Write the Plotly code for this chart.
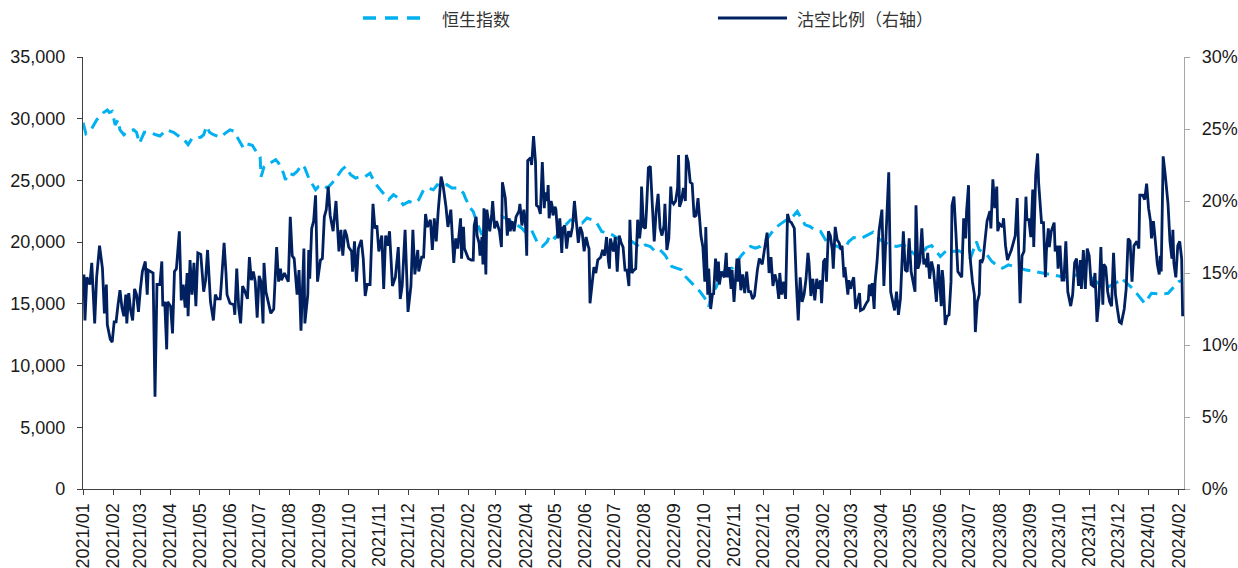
import pandas as pd
import plotly.graph_objects as go

BASE_DATE = "2021-01-01"

# Hang Seng Index: day offset from BASE_DATE, index level
hsi_day = [0, 3, 9, 14, 21, 25, 27, 30, 33, 36, 38, 42, 45, 52, 55, 58, 63, 68, 75, 79,
           86, 93, 100, 104, 108, 112, 121, 124, 127, 130, 134, 141, 145, 151, 155, 161,
           165, 169, 174, 179, 182, 183, 186,
           192, 198, 201, 206, 208, 211, 216, 220, 225, 228, 232, 235, 239, 242, 247, 251,
           256, 261, 266, 270, 275, 280, 285, 290, 295, 300, 304, 309, 314, 319, 324, 329,
           335, 340, 345, 350, 355, 360, 364, 369, 374, 379,
           386, 391, 393, 398, 401, 405, 408, 410, 415, 420, 425, 430, 434, 439, 446, 451,
           454, 460, 465, 468, 472, 477, 480, 485, 490, 496, 501, 508, 513, 518, 523, 528,
           533, 538, 544, 549, 556, 564, 569,
           574, 578, 583, 588, 593, 598, 602, 605, 610, 615, 619, 624, 629, 634, 639, 643,
           646, 651, 655, 660, 667, 672, 677, 682, 686, 691, 696, 701, 706, 711, 718, 723,
           728, 734, 737, 742, 747, 752, 758,
           764, 775, 782, 787, 792, 800, 812, 817, 823, 829, 836, 843, 848, 855, 860, 867,
           872, 877, 881, 888, 893, 900, 908, 912, 918, 921, 929, 934, 941, 945, 951,
           968, 977, 986, 997, 1009, 1019, 1030, 1043, 1054, 1064, 1067, 1079, 1091, 1098,
           1109, 1115, 1122, 1126, 1130]
hsi_value = [29680, 28800, 29200, 29900, 30500, 30700, 30500, 30600, 29500, 29900, 29100,
             28700, 28900, 29100, 28900, 28000, 28900, 28900, 28700, 28600, 29100, 28900,
             28500, 28300, 27900, 28400, 28500, 28700, 29400, 28900, 28700, 28500, 28750,
             29100, 29000, 28100, 27600, 27950, 27850, 27200, 26900, 25300, 26100,
             26400, 26680, 26400, 25590, 25050, 25590, 25460, 25730, 26270, 26000, 25190,
             24780, 24240, 24510, 24650, 24380, 24780, 25320, 25870, 26140, 25460, 25190,
             25320, 25320, 25590, 24780, 24380, 23840, 23430, 23840, 23570, 23030, 23300,
             23160, 23430, 24240, 24380, 24240, 24650, 24510, 24650, 24380,
             24380, 23970, 23570, 22760, 22490, 21540, 20860, 20590, 21400, 21810, 21950,
             22080, 21950, 21730, 21400, 21130, 20860, 21130, 20320, 19780, 19650, 20050,
             20590, 20320, 20860, 21400, 21810, 21680, 21540, 21950, 21810, 21540, 20860,
             20730, 20590, 20320, 20050, 20050, 19780,
             19510, 19780, 19650, 19240, 19380, 18970, 18430, 18030, 17890, 17760, 17220,
             16810, 16400, 16000, 15460, 14780, 15730, 16400, 17220, 17760, 17890, 18430,
             18970, 19380, 19650, 19510, 19650, 20050, 20590, 21130, 21540, 21810, 21950,
             22490, 22080, 21400, 21270, 21000, 20860,
             20050, 19650, 19380, 20050, 20380, 20320, 20810, 20320, 20000, 19780, 19650,
             19780, 19510, 18970, 18760, 19570, 19730, 19240, 18840, 19380, 19240, 19300,
             18970, 18700, 20050, 19380, 18970, 18430, 18030, 17890, 18160,
             17760, 17620, 17540, 17350, 17160, 17300, 17570, 16670, 16400, 16810, 17080,
             16220, 15050, 15860, 15780, 15860, 16490, 16810, 16900]

# Short-selling ratio (%): day offset from BASE_DATE, ratio
short_day = [1, 2, 4, 7, 9, 12, 14, 17, 20, 22, 24, 25, 28, 30, 32, 34, 36, 38, 40, 42, 44,
             45, 47, 49, 51, 53, 55, 57, 59, 61, 64, 66, 67, 72, 74, 76, 79, 81, 82, 84, 86,
             87, 90, 92, 94, 96, 99, 101, 103, 105, 107, 108, 110, 112, 114, 116, 118, 121,
             124, 126, 128, 131, 134, 136, 138, 141, 142, 145, 147, 148, 151, 155, 156, 158,
             160, 162, 164, 166, 169, 171, 173, 175, 177, 179, 181, 183, 185, 186, 188,
             190, 193, 196, 199, 201, 203, 204, 207, 209, 211, 213, 215, 217, 220, 222, 224,
             227, 228, 231, 232, 233, 235, 237, 239, 241, 244, 246, 248, 250, 252, 254, 257,
             260, 263, 265, 267, 269, 271, 273, 276, 277, 279, 281, 283, 286, 288, 290, 292,
             295, 298, 300, 302, 304, 307, 309, 311, 313, 315, 318, 321, 324, 326, 328, 331,
             334, 337, 339, 341, 344, 345, 348, 350, 352, 354, 357, 359, 361, 363, 365, 368,
             370, 373, 375, 378, 381,
             383, 385, 386, 388, 389, 391, 392, 394, 396, 399, 401, 402, 404, 405, 407, 408,
             410, 411, 412, 414, 415, 417, 418, 420, 421, 423, 425, 428, 430, 431, 434, 436,
             438, 439, 441, 443, 445, 448, 449, 451, 453, 455, 456, 457, 460, 461, 463, 465,
             466, 468, 470, 472, 474, 475, 477, 478, 479, 481, 482, 483, 485, 486, 488, 490,
             492, 493, 495, 497, 499, 501, 503, 505, 507, 509, 511, 513, 515, 517, 519, 520,
             521, 523, 525, 527, 529, 532, 534, 536, 538, 540, 541, 542, 545, 547, 549, 551,
             553, 555, 557, 559, 561, 562, 564, 566, 568, 570,
             572, 573, 574, 576, 578, 579, 581, 583, 585, 587, 589, 591, 593, 595, 597, 598,
             600, 602, 604, 605, 607, 609, 611, 612, 613, 615, 617, 619, 620, 622, 624, 626,
             628, 630, 632, 635, 637, 639, 640, 642, 643, 645, 647, 648, 650, 652, 653, 654,
             656, 659, 661, 662, 664, 666, 667, 669, 672, 673, 674, 676, 678, 680, 682, 684,
             686, 688, 690, 692, 693, 695, 698, 700, 702, 703, 705, 707, 709, 711, 713, 715,
             716, 718, 720, 722, 724, 726, 728, 731, 733, 735, 737, 739, 741, 743, 745, 746,
             748, 750, 752, 754, 756, 758, 759, 761, 763,
             764, 766, 768, 770, 771, 773, 775, 777, 779, 780, 782, 783, 784, 786, 787, 789,
             790, 792, 794, 796, 798, 799, 802, 805, 807, 808, 810, 811, 813, 814, 816, 818,
             820, 821, 823, 825, 828, 830, 832, 834, 836, 838, 840, 841, 843, 845, 847, 849,
             851, 853, 855, 856, 858, 860, 862, 864, 866, 867, 868, 870, 872, 874, 876, 877,
             879, 882, 883, 884, 886, 888, 890, 892, 893, 895, 897, 899, 901, 903, 905, 907,
             908, 910, 911, 912, 914, 916, 917, 919, 921, 922, 924, 925, 927, 929, 932, 933,
             935, 937, 939, 940, 942, 945, 946, 948, 950,
             954, 956, 958, 960, 961, 963, 965, 967, 969, 970, 972, 974, 976, 977, 979, 981,
             982, 985, 987, 989, 990, 992, 993, 995, 998, 999, 1001, 1002, 1004, 1006, 1008,
             1010, 1012, 1015, 1017, 1019, 1021, 1023, 1025, 1026, 1028, 1030, 1032, 1034,
             1036, 1038, 1040, 1042, 1044, 1046, 1048, 1049, 1051, 1053, 1055, 1057, 1059,
             1061, 1063, 1065, 1067, 1070, 1072, 1073, 1074, 1076, 1078, 1080, 1083, 1085,
             1086, 1088, 1089, 1091, 1093, 1095, 1097, 1098, 1100, 1102, 1104, 1106, 1107,
             1108, 1110, 1112, 1115, 1117, 1119, 1120, 1121, 1123, 1125, 1127, 1129, 1130]
short_pct = [14.9, 11.7, 14.7, 14.2, 15.7, 11.5, 14.7, 16.9, 15.3, 12.2, 14.2, 11.4, 10.4,
             10.2, 11.6, 11.6, 12.8, 13.8, 12.6, 12.0, 13.5, 11.5, 13.6, 12.4, 11.7, 13.9,
             13.5, 12.3, 13.9, 15.1, 15.8, 13.5, 15.2, 15.0, 6.4, 14.2, 14.2, 15.8, 12.7,
             13.0, 9.7, 13.0, 12.7, 10.8, 15.1, 15.3, 17.9, 13.1, 14.2, 12.6, 15.0, 12.0,
             15.9, 13.5, 15.7, 12.7, 16.4, 16.3, 13.7, 14.5, 16.6, 13.0, 11.7, 13.5, 13.2,
             13.2, 14.1, 17.1, 14.9, 13.5, 12.9, 12.8, 12.1, 15.3, 12.6, 11.5, 14.1, 13.8,
             13.2, 16.1, 14.5, 15.1, 14.4, 11.9, 14.8, 14.4, 11.5, 15.7, 13.7,
             13.0, 12.2, 12.5, 16.8, 14.4, 15.3, 14.5, 15.0, 14.7, 14.4, 18.9, 16.2, 16.0,
             13.5, 15.2, 11.0, 16.7, 11.5, 13.5, 16.6, 14.6, 18.1, 18.6, 20.4, 14.4, 15.9,
             16.0, 18.9, 19.4, 21.0, 19.0, 17.9, 20.0, 16.5, 18.0, 16.2, 18.0, 17.6, 16.8,
             16.5, 15.1, 17.2, 14.4, 16.7, 17.3, 16.0, 13.4, 14.2, 14.2, 19.8, 18.1, 18.3,
             16.5, 17.6, 13.9, 17.6, 16.9, 17.9, 14.1, 14.7, 16.8, 13.2, 14.1, 18.0, 12.3,
             14.1, 18.0, 14.9, 16.6, 15.1, 16.1, 16.1, 19.1, 18.2, 18.7, 16.6, 18.8, 17.2,
             19.3, 21.7, 21.1, 19.6, 18.2, 19.4, 15.7,
             17.4, 16.7, 17.4, 18.8, 16.0, 18.2, 16.7, 16.4, 16.0, 15.9, 15.9, 18.3, 18.9,
             17.6, 17.1, 16.2, 17.5, 15.6, 19.5, 14.9, 19.4, 18.4, 17.9, 19.1, 20.0, 18.1,
             18.6, 17.9, 16.8, 21.3, 20.2, 17.6, 18.8, 17.9, 18.6, 17.9, 18.9, 19.3, 19.8,
             18.3, 19.4, 18.1, 16.2, 22.8, 23.0, 22.5, 24.5, 22.7, 19.7, 19.6, 19.1, 22.7,
             19.5, 20.6, 20.0, 21.1, 18.8, 20.0, 19.7, 19.0, 19.6, 19.4, 17.4, 18.8, 16.4,
             18.1, 18.3, 16.7, 17.9, 17.5, 18.2, 20.0, 18.3, 17.1, 18.2, 17.8, 16.5, 17.5,
             16.9, 16.7, 12.9, 14.2, 15.4, 15.0, 15.9, 16.1, 16.6, 16.2, 17.5, 15.8, 15.3,
             17.4, 16.5, 17.5, 15.1, 17.6, 17.1, 16.8, 15.2, 15.2, 14.1, 18.7, 15.0, 15.2,
             15.3, 18.7,
             17.4, 18.1, 21.0, 18.2, 18.1, 19.3, 22.3, 22.4, 19.7, 17.2, 19.3, 20.5, 18.1,
             17.6, 18.3, 19.8, 16.6, 17.4, 21.0, 20.0, 19.8, 20.0, 20.9, 23.2, 19.6, 20.0,
             20.9, 20.0, 23.2, 22.7, 21.3, 21.2, 18.9, 19.0, 20.2, 17.6, 16.8, 14.4, 18.2,
             13.5, 15.3, 12.5, 13.6, 13.5, 16.0, 14.4, 15.8, 14.2, 15.1, 14.7, 16.4, 14.7,
             15.4, 13.9, 15.2, 13.0, 16.0, 14.4, 16.0, 13.8, 14.9, 13.6, 15.1, 13.7, 13.7,
             13.2, 13.4, 14.9, 15.2, 16.0, 15.6, 16.5, 17.3, 17.8, 15.0, 16.1, 14.1, 14.9,
             14.4, 13.2, 15.0, 13.5, 14.4, 13.2, 19.1, 18.6, 18.5, 18.1, 14.4, 11.7, 14.7,
             13.0, 13.5, 14.6, 16.4, 15.8, 13.4, 14.6, 13.1, 14.6, 13.9, 14.5, 12.9, 15.8,
             16.0,
             14.4, 17.9, 17.6, 16.6, 15.3, 18.2, 17.3, 17.1, 16.6, 16.9, 14.7, 15.4, 14.7,
             13.5, 14.5, 13.9, 14.3, 14.7, 12.5, 13.1, 13.6, 12.4, 12.5, 12.9, 13.1, 14.2,
             13.4, 14.3, 12.5, 14.4, 15.8, 17.9, 18.8, 19.4, 14.1, 16.9, 22.0, 13.7, 12.9,
             12.4, 13.7, 12.1, 13.2, 15.1, 17.9, 15.2, 15.1, 17.4, 15.1, 14.4, 13.7, 19.7,
             15.3, 15.8, 18.1, 15.6, 16.0, 15.4, 16.4, 14.6, 15.8, 15.2, 13.4, 13.0, 15.6,
             12.7, 15.2, 14.5, 11.4, 12.0, 12.1, 14.4, 19.7, 20.3, 17.8, 15.1, 14.9, 14.7,
             18.8, 17.4, 19.3, 21.1, 16.5, 15.6, 14.4, 13.5, 10.9, 13.0, 13.5, 15.9, 15.8,
             16.0, 17.2, 18.6, 19.3, 18.1, 21.5, 19.5, 21.0, 17.9, 18.4, 18.2, 18.8, 16.9,
             15.9,
             16.6, 17.1, 17.6, 20.2, 18.2, 12.9, 16.2, 16.5, 20.3, 18.7, 18.7, 17.5, 20.8,
             16.8, 21.8, 23.3, 21.3, 18.5, 18.5, 14.7, 16.5, 18.1, 16.8, 17.9, 18.5, 16.5,
             16.9, 15.3, 16.9, 14.5, 14.5, 17.2, 13.7, 12.7, 13.5, 15.7, 16.0, 14.1, 15.9,
             13.9, 16.6, 13.9, 16.7, 16.2, 14.2, 14.1, 15.0, 11.6, 13.1, 16.8, 12.8, 15.6,
             15.4, 13.7, 13.0, 12.7, 16.4, 13.5, 12.5, 11.6, 11.5, 12.5, 13.9, 16.2, 17.4,
             17.2, 14.4, 16.9, 17.2, 16.7, 20.4, 20.4, 20.4, 20.1, 21.2, 19.5, 18.6, 17.4,
             18.6, 17.2, 15.6, 14.9, 16.2, 15.1, 23.1, 21.9, 19.8, 17.2, 16.0, 18.0, 15.7,
             14.7, 16.9, 17.2, 16.0, 12.0]

legend_names = ["恒生指数", "沽空比例（右轴）"]
hsi_color = "#00B0F0"
short_color = "#002060"

base = pd.Timestamp(BASE_DATE)
hsi_dates = base + pd.to_timedelta(hsi_day, unit="D")
short_dates = base + pd.to_timedelta(short_day, unit="D")

fig = go.Figure()
fig.add_trace(go.Scatter(
    x=hsi_dates, y=hsi_value, mode="lines", name=legend_names[0],
    line=dict(color=hsi_color, width=3, dash="12px,7px"), yaxis="y"))
fig.add_trace(go.Scatter(
    x=short_dates, y=short_pct, mode="lines", name=legend_names[1],
    line=dict(color=short_color, width=2.8), yaxis="y2"))

tick_font = dict(family="Arial, Liberation Sans, sans-serif", size=18, color="#1a1a1a")

fig.update_layout(
    width=1238, height=568,
    margin=dict(l=83, r=54, t=57, b=79),
    paper_bgcolor="white", plot_bgcolor="white",
    showlegend=False,
    font=tick_font,
    xaxis=dict(
        type="date", range=["2021-01-01", "2024-02-06 10:00"],
        tick0="2021-01-01", dtick="M1", tickformat="%Y/%m", tickangle=-90,
        ticks="outside", ticklen=5, tickcolor="#404040", tickwidth=1,
        showline=True, linecolor="#404040", linewidth=1.3,
        showgrid=False, zeroline=False, tickfont=tick_font,
        automargin=False, ticklabelstandoff=1),
    yaxis=dict(
        range=[0, 35000], dtick=5000, tickformat=",",
        ticks="outside", ticklen=5, tickcolor="#404040",
        showline=True, linecolor="#404040", linewidth=1.3,
        showgrid=False, zeroline=False, tickfont=tick_font,
        automargin=False, ticklabelstandoff=8),
    yaxis2=dict(
        overlaying="y", side="right", range=[0, 30], dtick=5, ticksuffix="%",
        ticks="outside", ticklen=5, tickcolor="#A6A6A6",
        showline=True, linecolor="#A6A6A6", linewidth=1.3,
        showgrid=False, zeroline=False, tickfont=tick_font,
        automargin=False, ticklabelstandoff=8),
)

# Legend drawn manually at top
legend_y = 1.090
fig.add_shape(type="line", xref="paper", yref="paper", x0=0.2543, x1=0.3079,
              y0=legend_y, y1=legend_y, line=dict(color=hsi_color, width=3.5, dash="13px,9px"))
fig.add_shape(type="line", xref="paper", yref="paper", x0=0.5767, x1=0.6394,
              y0=legend_y, y1=legend_y, line=dict(color=short_color, width=3))
legend_font = dict(family="Noto Sans CJK SC, sans-serif", size=17, color="#333333")
fig.add_annotation(xref="paper", yref="paper", x=0.3243, y=legend_y, text=legend_names[0],
                   showarrow=False, xanchor="left", yanchor="middle", font=legend_font)
fig.add_annotation(xref="paper", yref="paper", x=0.6467, y=legend_y, text=legend_names[1],
                   showarrow=False, xanchor="left", yanchor="middle", font=legend_font)

fig.write_html(
    "out.html",
    config={"displayModeBar": False},
    post_script="document.body.style.margin='0';document.body.style.overflow='hidden';"
                "document.documentElement.style.overflow='hidden';")
